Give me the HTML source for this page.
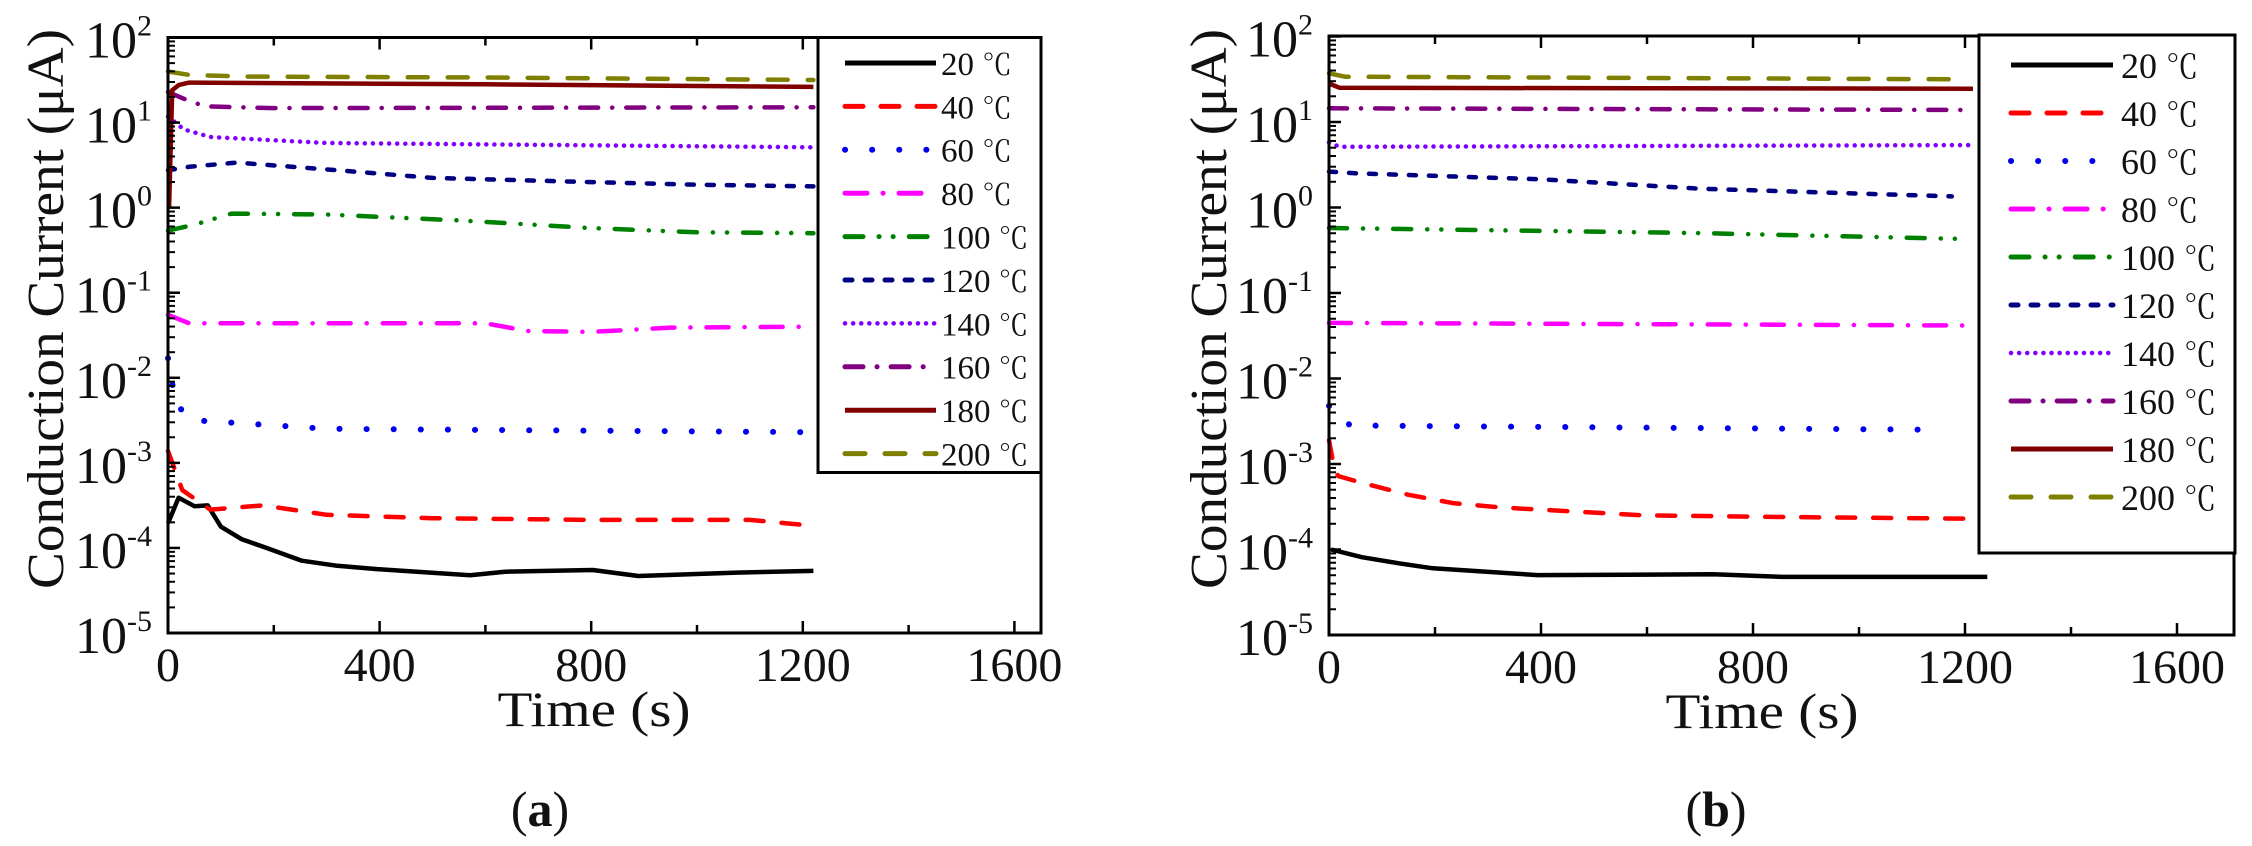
<!DOCTYPE html>
<html><head><meta charset="utf-8"><style>
html,body{margin:0;padding:0;background:#fff;}
svg{display:block;}
text{font-family:"Liberation Serif","Noto Serif CJK SC",serif;fill:#111;}
</style></head><body>
<svg id="s" width="2252" height="846" viewBox="0 0 2252 846" xmlns="http://www.w3.org/2000/svg"></svg>
<script>
var NS="http://www.w3.org/2000/svg";var S=document.getElementById('s');
function el(t,a,p,txt){var e=document.createElementNS(NS,t);for(var k in a)e.setAttribute(k,a[k]);if(txt!=null)e.textContent=txt;(p||S).appendChild(e);return e;}
function T(a,txt){return el('text',a,S,txt);}
var ST={
20:{c:'#000',d:''},
40:{c:'#f00',d:'18 18'},
60:{c:'#0000ee',d:'0.1 27',w:6},
80:{c:'#ff00ff',d:'22 16 0.1 16'},
100:{c:'#008000',d:'18 16 0.1 14 0.1 16'},
120:{c:'#000080',d:'7 13'},
140:{c:'#7f00ff',d:'0.1 8',w:4.5},
160:{c:'#800080',d:'18 14 0.1 14'},
180:{c:'#800000',d:''},
200:{c:'#808000',d:'20 20'}
};
function plot(P){
 var X=function(t){return P.x0+P.sx*t;},Y=function(l){return P.yb-P.dec*(l+5);};
 for(var k in P.data){var st=ST[k];var pts=P.data[k].map(function(p){return X(p[0]).toFixed(1)+','+Y(p[1]).toFixed(1);}).join(' ');
  var a={points:pts,fill:'none',stroke:st.c,'stroke-width':st.w||4.5,'stroke-linejoin':'round'};
  if(st.d){a['stroke-dasharray']=st.d;a['stroke-linecap']='round';}
  el('polyline',a);}
 el('rect',{x:P.x0,y:P.yt,width:P.xr-P.x0,height:P.yb-P.yt,fill:'none',stroke:'#000','stroke-width':3});
 for(var t=0;t<=1700;t+=200){var x=X(t);if(x>P.xr-2)break;var L=(t%400==0)?12:8;
  el('line',{x1:x,y1:P.yb,x2:x,y2:P.yb-L,stroke:'#000','stroke-width':2.5});
  el('line',{x1:x,y1:P.yt,x2:x,y2:P.yt+L,stroke:'#000','stroke-width':2.5});
  if(t%400==0)T({x:x,y:P.yb+48,'font-size':48,'text-anchor':'middle'},String(t));}
 for(var e=-5;e<=2;e++){var y=Y(e);
  el('line',{x1:P.x0,y1:y,x2:P.x0+12,y2:y,stroke:'#000','stroke-width':2.5});
  if(e<2)for(var m=2;m<=9;m++){var ym=Y(e+Math.log10(m));el('line',{x1:P.x0,y1:ym,x2:P.x0+7,y2:ym,stroke:'#000','stroke-width':2});}
  var sw=(e<0)?24:14;
  T({x:P.x0-16,y:y-2,'font-size':30,'text-anchor':'end'},String(e));
  T({x:P.x0-16-sw-1,y:y+20,'font-size':52,'text-anchor':'end'},'10');}
 T({x:0,y:0,'font-size':52,'text-anchor':'middle',transform:'translate('+P.ylx+',309) rotate(-90)',textLength:560,lengthAdjust:'spacingAndGlyphs'},'Conduction Current (\u03bcA)');
 T({x:P.tx,y:P.yb+93,'font-size':50,'text-anchor':'middle',textLength:193,lengthAdjust:'spacingAndGlyphs'},'Time (s)');
 var lab=T({x:P.cx,y:826,'font-size':50,'text-anchor':'middle'});
 el('tspan',{},lab,'(');el('tspan',{'font-weight':'bold'},lab,P.cap);el('tspan',{},lab,')');
 var G=P.leg;el('rect',{x:G.x,y:G.y,width:G.w,height:G.h,fill:'#fff',stroke:'#000','stroke-width':3});
 var keys=[20,40,60,80,100,120,140,160,180,200];
 keys.forEach(function(k,i){var yy=G.y0+i*G.sp;var st=ST[k];
  var a={x1:G.l1,y1:yy,x2:G.l2,y2:yy,stroke:st.c,'stroke-width':st.w||5};
  if(st.d){a['stroke-dasharray']=st.d;a['stroke-linecap']='round';}
  el('line',a);
  var tx=T({x:G.tx,y:yy+G.fs*0.36,'font-size':G.fs});
  el('tspan',{'font-family':'Liberation Serif, serif'},tx,k+' ');
  el('tspan',{'font-family':'Noto Serif CJK SC, serif','font-size':G.fs*0.9},tx,'\u2103');});
}
plot({x0:168,xr:1041,sx:0.529,yt:37.5,yb:633,dec:85.07,ylx:63,tx:594,cx:540,cap:'a',
 leg:{x:818,y:37.5,w:223,h:435,y0:63,sp:43.4,l1:845,l2:936,tx:941,fs:33},
 data:{
 200:[[0,1.6],[40,1.56],[150,1.54],[600,1.53],[1220,1.5]],
 180:[[2,0],[8,1.38],[20,1.44],[40,1.47],[600,1.45],[1220,1.42]],
 160:[[0,1.36],[30,1.28],[70,1.19],[200,1.17],[1220,1.18]],
 140:[[0,1.07],[30,0.92],[80,0.83],[300,0.76],[1220,0.71]],
 120:[[0,0.44],[40,0.48],[130,0.53],[300,0.45],[500,0.35],[800,0.3],[1000,0.27],[1220,0.25]],
 100:[[0,-0.27],[50,-0.2],[120,-0.07],[300,-0.08],[550,-0.15],[800,-0.24],[1000,-0.29],[1220,-0.3]],
 80:[[0,-1.26],[40,-1.36],[600,-1.36],[680,-1.45],[800,-1.46],[950,-1.41],[1220,-1.4]],
 60:[[0,-1.77],[15,-2.32],[50,-2.5],[300,-2.6],[1220,-2.64]],
 40:[[0,-2.86],[27,-3.32],[80,-3.55],[180,-3.5],[300,-3.61],[500,-3.65],[800,-3.67],[1100,-3.67],[1220,-3.74]],
 20:[[0,-3.71],[20,-3.41],[50,-3.51],[75,-3.5],[100,-3.75],[140,-3.9],[186,-4.0],[253,-4.15],[320,-4.21],[398,-4.25],[571,-4.32],[637,-4.28],[803,-4.26],[889,-4.33],[1075,-4.29],[1220,-4.27]]
 }});
plot({x0:1329,xr:2234,sx:0.53,yt:36,yb:635,dec:85.5,ylx:1226,tx:1762,cx:1716,cap:'b',
 leg:{x:1979,y:35,w:256,h:518,y0:65,sp:48,l1:2011,l2:2113,tx:2121,fs:36},
 data:{
 200:[[0,1.57],[30,1.53],[1190,1.5]],
 180:[[0,1.45],[20,1.4],[1215,1.39]],
 160:[[0,1.16],[1215,1.14]],
 140:[[0,0.76],[20,0.71],[1215,0.73]],
 120:[[0,0.42],[50,0.4],[400,0.33],[700,0.22],[1175,0.13]],
 100:[[0,-0.24],[700,-0.3],[1210,-0.37]],
 80:[[0,-1.35],[1210,-1.38]],
 60:[[0,-2.32],[40,-2.55],[1160,-2.6]],
 40:[[0,-2.72],[8,-2.99],[17,-3.14],[62,-3.22],[150,-3.36],[236,-3.46],[328,-3.51],[592,-3.6],[857,-3.62],[1215,-3.64]],
 20:[[4,-4.0],[62,-4.09],[130,-4.16],[196,-4.22],[394,-4.3],[725,-4.29],[857,-4.32],[1242,-4.32]]
 }});
</script>
</body></html>
